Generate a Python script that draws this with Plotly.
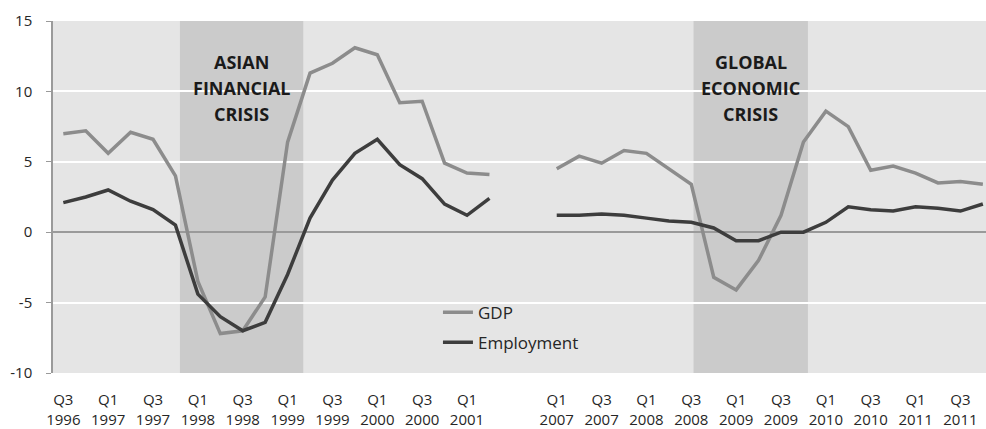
import plotly.graph_objects as go

# Quarterly periods; two blank slots separate the 1996-2001 and 2007-2011 windows
quarters = (
    ["Q3 1996", "Q4 1996", "Q1 1997", "Q2 1997", "Q3 1997", "Q4 1997",
     "Q1 1998", "Q2 1998", "Q3 1998", "Q4 1998", "Q1 1999", "Q2 1999",
     "Q3 1999", "Q4 1999", "Q1 2000", "Q2 2000", "Q3 2000", "Q4 2000",
     "Q1 2001", "Q2 2001"]
    + ["", ""]
    + ["Q1 2007", "Q2 2007", "Q3 2007", "Q4 2007", "Q1 2008", "Q2 2008",
       "Q3 2008", "Q4 2008", "Q1 2009", "Q2 2009", "Q3 2009", "Q4 2009",
       "Q1 2010", "Q2 2010", "Q3 2010", "Q4 2010", "Q1 2011", "Q2 2011",
       "Q3 2011", "Q4 2011"]
)

gdp = [7.0, 7.2, 5.6, 7.1, 6.6, 4.0, -3.5, -7.2, -7.0, -4.6,
       6.4, 11.3, 12.0, 13.1, 12.6, 9.2, 9.3, 4.9, 4.2, 4.1,
       None, None,
       4.5, 5.4, 4.9, 5.8, 5.6, 4.5, 3.4, -3.2, -4.1, -2.0,
       1.2, 6.4, 8.6, 7.5, 4.4, 4.7, 4.2, 3.5, 3.6, 3.4]

employment = [2.1, 2.5, 3.0, 2.2, 1.6, 0.5, -4.4, -6.0, -7.0, -6.4,
              -3.0, 1.0, 3.7, 5.6, 6.6, 4.8, 3.8, 2.0, 1.2, 2.4,
              None, None,
              1.2, 1.2, 1.3, 1.2, 1.0, 0.8, 0.7, 0.3, -0.6, -0.6,
              0.0, 0.0, 0.7, 1.8, 1.6, 1.5, 1.8, 1.7, 1.5, 2.0]

# Value axis ticks (plain hyphen for negatives)
y_ticks = [-10, -5, 0, 5, 10, 15]
y_tick_text = [str(v) for v in y_ticks]

# Crisis windows on the quarter index scale, with their labels
crisis_spans = [(5.2, 10.7), (28.1, 33.2)]
crisis_labels = [["ASIAN", "FINANCIAL", "CRISIS"],
                 ["GLOBAL", "ECONOMIC", "CRISIS"]]

x = list(range(len(quarters)))
tick_idx = [i for i in x if i % 2 == 0 and quarters[i]]
tick_text = [quarters[i].replace(" ", "<br>") for i in tick_idx]

fig = go.Figure()

fig.add_trace(go.Scatter(
    x=x, y=gdp, name="GDP", mode="lines",
    line=dict(color="#8c8c8c", width=3.5),
    connectgaps=False, legend="legend", showlegend=True,
))
fig.add_trace(go.Scatter(
    x=x, y=employment, name="Employment", mode="lines",
    line=dict(color="#3d3d3d", width=3.5),
    connectgaps=False, legend="legend2", showlegend=True,
))

for (x0, x1), lines in zip(crisis_spans, crisis_labels):
    fig.add_shape(type="rect", xref="x", yref="paper", x0=x0, x1=x1,
                  y0=0, y1=1, fillcolor="#cbcbcb", line=dict(width=0),
                  layer="below")
    for k, txt in enumerate(lines):
        fig.add_annotation(
            x=(x0 + x1) / 2, xref="x", y=0.8835 - k * 0.0739, yref="paper",
            text=f"<b>{txt}</b>", showarrow=False,
            font=dict(family="Open Sans", size=18, color="#1a1a1a"),
            xanchor="center", yanchor="middle",
        )

legend_common = dict(
    bgcolor="rgba(0,0,0,0)", xanchor="left", yanchor="middle",
    font=dict(family="Open Sans", size=17, color="#262626"),
)
fig.update_layout(
    width=986, height=429,
    margin=dict(l=53, r=0, t=21, b=56),
    paper_bgcolor="white", plot_bgcolor="#e5e5e5",
    font=dict(family="Open Sans", size=15, color="#262626"),
    showlegend=True,
    legend=dict(x=0.4126, y=0.171, **legend_common),
    legend2=dict(x=0.4126, y=0.086, **legend_common),
    xaxis=dict(
        range=[-0.46, 41.14], tickmode="array", tickvals=tick_idx,
        ticktext=tick_text, showgrid=False, zeroline=False, showline=False,
        ticks="", tickfont=dict(size=15), ticklabelstandoff=16,
    ),
    yaxis=dict(
        range=[-10, 15], tickmode="array", tickvals=y_ticks,
        ticktext=y_tick_text, showgrid=True, gridcolor="white",
        gridwidth=1.5, zeroline=True, zerolinecolor="#9a9a9a",
        zerolinewidth=1.5, showline=True, linecolor="#9a9a9a", linewidth=1.5,
        ticks="outside", ticklen=5, tickcolor="#9a9a9a",
        tickfont=dict(size=15), ticklabelstandoff=11,
    ),
)

fig.write_html("out.html")
